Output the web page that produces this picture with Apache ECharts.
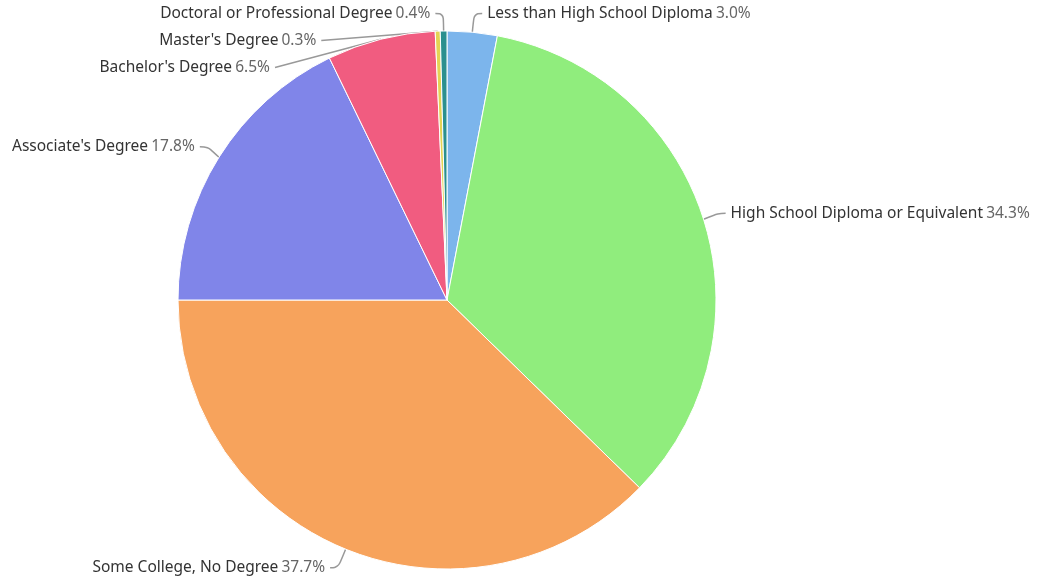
<!DOCTYPE html>
<html>
<head>
<meta charset="utf-8">
<script src="https://cdn.jsdelivr.net/npm/echarts@6/dist/echarts.min.js"></script>
<style>
  html, body { margin: 0; padding: 0; background: #fff; }
  #chart { width: 1038px; height: 587px; }
</style>
</head>
<body>
<div id="chart"></div>
<script>
// education attainment shares, clockwise from 12 o'clock
const categories = [
  'Less than High School Diploma',
  'High School Diploma or Equivalent',
  'Some College, No Degree',
  "Associate's Degree",
  "Bachelor's Degree",
  "Master's Degree",
  'Doctoral or Professional Degree'
]
const shares = [3.0, 34.3, 37.7, 17.8, 6.5, 0.3, 0.4]
const colors = ['#7cb5ec', '#90ed7d', '#f7a35c', '#8085e9', '#f15c80', '#e4d354', '#2b908f']

const chart = echarts.init(document.getElementById('chart'))

chart.setOption({
  animation: false,
  color: colors,
  series: [{
    type: 'pie',
    center: [447, 300],
    radius: 269,
    startAngle: 90,
    clockwise: true,
    avoidLabelOverlap: true,
    itemStyle: { borderColor: '#fff', borderWidth: 1 },
    label: {
      show: true,
      position: 'outside',
      overflow: 'none',
      lineHeight: 25,
      fontFamily: '"Noto Sans", sans-serif',
      formatter: p => '{n|' + p.name + '} {p|' + p.value.toFixed(1) + '%}',
      rich: {
        n: { fontSize: 15.5, lineHeight: 25, color: '#333', fontFamily: '"Noto Sans", sans-serif' },
        p: { fontSize: 15.5, lineHeight: 25, color: '#666', fontFamily: '"Noto Sans", sans-serif' }
      }
    },
    labelLine: {
      show: true,
      length: 20,
      length2: 8,
      smooth: 0.4,
      lineStyle: { color: '#999', width: 1.5 }
    },
    data: categories.map((c, i) => ({ name: c, value: shares[i] }))
  }]
})
</script>
</body>
</html>
